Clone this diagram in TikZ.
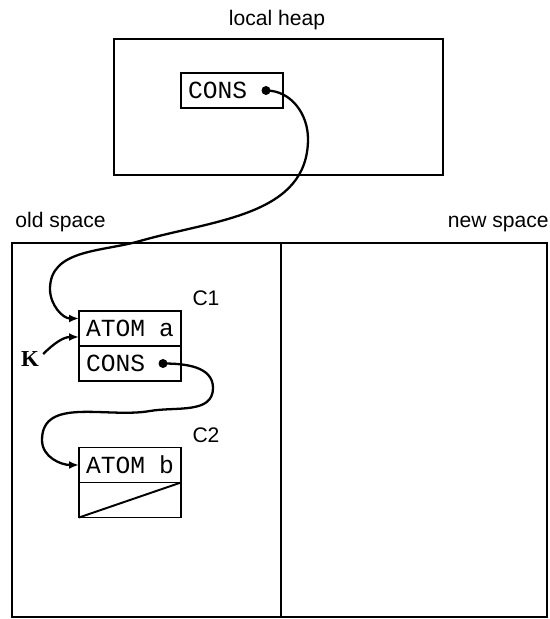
\documentclass[tikz,border=0pt]{standalone}
\usepackage{fontspec}
\setmainfont{Liberation Sans}
\setmonofont{Liberation Mono}
\newfontfamily\kfont{Liberation Serif}
\usetikzlibrary{arrows.meta,positioning,calc}
\tikzset{
	area/.style={draw, line width=1.1pt, inner sep=0pt, outer sep=0pt},
	cell/.style={draw, line width=1.1pt, minimum width=2.04cm, minimum height=0.7cm,
		inner xsep=0.14cm, inner ysep=0pt, outer sep=0pt, text width=1.76cm,
		align=left, font=\fontsize{14}{16}\selectfont\ttfamily},
	lbl/.style={font=\fontsize{12}{14}\selectfont, inner sep=0pt},
	ptr/.style={circle, fill, inner sep=0pt, minimum size=0.18cm},
	link/.style={line width=1.3pt, -{Latex[length=2mm,width=1.6mm]}},
}
\begin{document}
\begin{tikzpicture}[x=1cm, y=1cm]
	\useasboundingbox (0,0) rectangle (11.00,12.38);
	% heap and the two semispaces
	\node[area, minimum width=6.58cm, minimum height=2.72cm] at (5.57,10.24) (heap) {};
	\node[lbl] at (5.54,11.98) (heaplbl) {local heap};
	\node[area, minimum width=5.38cm, minimum height=7.48cm] at (2.93,3.78) (old) {};
	\node[area, minimum width=5.32cm, minimum height=7.48cm] at (8.28,3.78) (new) {};
	\node[lbl, anchor=west] at (0.30,7.94) (oldlbl) {old space};
	\node[lbl, anchor=east] at (10.98,7.90) (newlbl) {new space};
	% cells
	\node[cell] at (4.64,10.57) (hcons) {CONS};
	\node[cell] at (2.60,5.81) (c1car) {ATOM\hfill a};
	\node[cell, below=0pt of c1car] (c1cdr) {CONS};
	\node[cell] at (2.60,3.08) (c2car) {ATOM\hfill b};
	\node[cell, below=0pt of c2car] (c2cdr) {};
	\draw[line width=1.1pt] (c2cdr.south west) -- (c2cdr.north east);
	\node[lbl] at (4.12,6.42) (c1lbl) {C1};
	\node[lbl] at (4.12,3.68) (c2lbl) {C2};
	\node[ptr] at ($(hcons.east)+(-0.34,0)$) (hptr) {};
	\node[ptr] at ($(c1cdr.east)+(-0.36,0)$) (c1ptr) {};
	\node[font=\kfont\bfseries\fontsize{13}{15}\selectfont, inner sep=0pt] at (0.60,5.20) (kname) {K};
	% pointers
	\draw[link] (hptr.center) to[out=0,in=90] (6.16,9.60) to[out=-90,in=16] (2.80,7.56)
		to[out=196,in=90] (1.00,6.60) to[out=-90,in=180] ($(c1car.west)+(0,0.20)$);
	\draw[link] (c1ptr.center) to[out=0,in=90] (4.26,4.62) to[out=-90,in=10] (3.00,4.16)
		to[out=190,in=90] (0.84,3.58) to[out=-90,in=180] (c2car.west);
	\draw[link] ($(kname.east)+(0.08,0.10)$) to[out=45,in=180] ($(c1car.west)+(0,-0.17)$);
\end{tikzpicture}
\end{document}
